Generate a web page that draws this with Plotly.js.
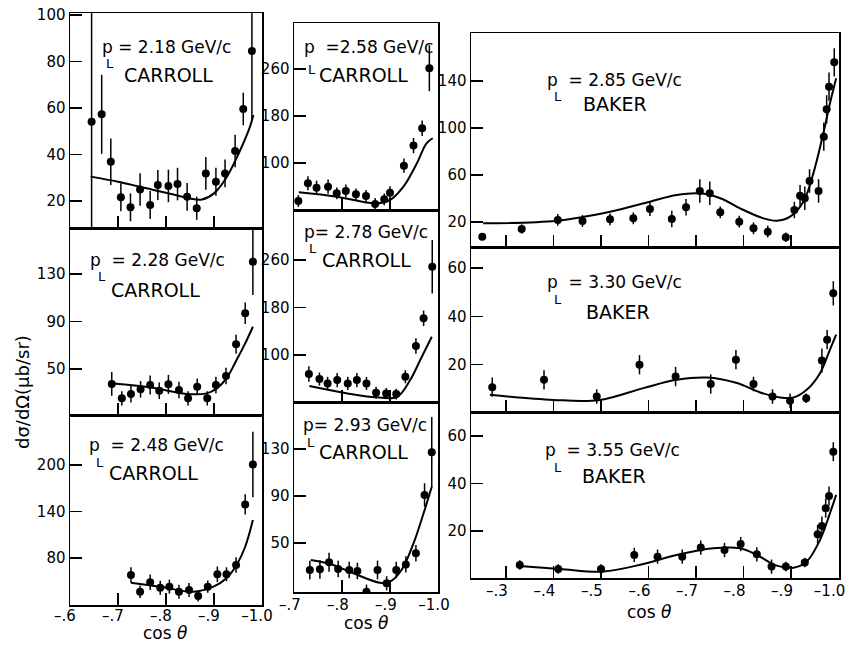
<!DOCTYPE html>
<html><head><meta charset="utf-8">
<script src="https://cdn.plot.ly/plotly-3.0.1.min.js"></script>
<style>html,body{margin:0;padding:0;background:#fff}#plot{width:845px;height:645px}</style>
</head><body><div id="plot"></div>
<script>
// ---- data (cos theta, dsigma/dOmega, error) ----
const labels = ['2.18','2.28','2.48','2.58','2.78','2.93','2.85','3.30','3.55'];
const sources = ['CARROLL','CARROLL','CARROLL','CARROLL','CARROLL','CARROLL','BAKER','BAKER','BAKER'];

const cos218 = [-0.645,-0.666,-0.685,-0.706,-0.726,-0.746,-0.767,-0.783,-0.805,-0.824,-0.844,-0.864,-0.883,-0.904,-0.923,-0.944,-0.961,-0.979];
const ds218  = [54.1,57.3,36.9,21.6,17.3,25.0,18.3,26.9,26.5,27.3,21.8,16.9,31.9,28.3,31.9,41.5,59.6,84.6];
const er218  = [60,17,10,6,6,7,6,6.5,7,7,6,5,7,6,6,7,7,30];
const fit218c = [-0.643,-0.70,-0.75,-0.80,-0.85,-0.875,-0.90,-0.925,-0.95,-0.975,-0.982];
const fit218v = [30.5,28.3,25.9,23.6,21.1,20.7,23.3,29.8,39.8,52,57];

const cos228 = [-0.687,-0.708,-0.727,-0.747,-0.767,-0.786,-0.805,-0.827,-0.846,-0.865,-0.886,-0.904,-0.925,-0.946,-0.965,-0.981];
const ds228  = [37.4,25.3,28.9,32.9,36.5,31.7,37.1,32.3,25.3,35.1,25.3,36.5,44.1,70.8,96.9,140.3];
const er228  = [10,6,7,7,8,7,8,7,6,7,6,7,7,8,9,28];
const fit228c = [-0.690,-0.767,-0.843,-0.885,-0.906,-0.926,-0.947,-0.965,-0.981];
const fit228v = [37.9,34.6,29,29.5,33.7,42.1,57.6,71.6,85.6];

const cos248 = [-0.727,-0.746,-0.767,-0.788,-0.807,-0.827,-0.848,-0.867,-0.887,-0.907,-0.926,-0.946,-0.965,-0.981];
const ds248  = [58.2,36.7,48.8,41.9,43.2,36.7,38.9,31.2,43.2,59.1,59.1,71.0,149,200.3];
const er248  = [10,8,10,9,9,9,9,7,8,10,9,10,13,42];
const fit248c = [-0.727,-0.788,-0.857,-0.899,-0.926,-0.947,-0.965,-0.981];
const fit248v = [48.3,43.1,36.7,43.2,53.9,71,94.5,128.8];

const cos258 = [-0.709,-0.729,-0.747,-0.771,-0.789,-0.808,-0.829,-0.850,-0.869,-0.888,-0.900,-0.929,-0.949,-0.967,-0.982];
const ds258  = [35.3,65.4,58,59.7,48.4,52.3,46.7,43.8,30.2,38.2,49.5,95.4,129.5,159,261.2];
const er258  = [10,12,12,12,10,11,10,10,10,10,11,12,13,13,39];
const fit258c = [-0.710,-0.789,-0.869,-0.900,-0.928,-0.956,-0.976,-0.989];
const fit258v = [50.1,42.7,31.4,37,59.7,99.4,133.5,142];

const cos278 = [-0.731,-0.753,-0.770,-0.790,-0.812,-0.831,-0.851,-0.871,-0.892,-0.913,-0.932,-0.954,-0.970,-0.988];
const ds278  = [68,59.6,52.3,57.9,52.3,57.9,52.3,36.6,35.5,34.3,63.5,115.2,161.8,248.7];
const er278  = [13,11,11,12,11,12,11,10,9,9,11,13,13,45];
const fit278c = [-0.732,-0.803,-0.872,-0.915,-0.942,-0.963,-0.987];
const fit278v = [47.8,36.6,28.8,29.8,57.9,91.6,130.8];

const cos293 = [-0.733,-0.754,-0.773,-0.792,-0.815,-0.832,-0.851,-0.874,-0.893,-0.913,-0.933,-0.954,-0.972,-0.987];
const ds293  = [27,27.6,33.6,27.9,27,26.2,8.6,27,15.7,27,31.8,41.2,90.9,127.2];
const er293  = [8,8,8,7,7,7,6,8,6,7,7,7,10,30];
const fit293c = [-0.735,-0.775,-0.824,-0.879,-0.900,-0.924,-0.949,-0.970,-0.987];
const fit293v = [35.5,32.1,24.2,16.2,17.1,27,49.7,75.3,97.9];

const cos285 = [-0.250,-0.333,-0.409,-0.461,-0.519,-0.568,-0.603,-0.649,-0.679,-0.708,-0.729,-0.751,-0.791,-0.821,-0.851,-0.889,-0.907,-0.919,-0.929,-0.939,-0.958,-0.969,-0.975,-0.980,-0.991];
const ds285  = [7.5,14,21.7,20.9,22.3,23.1,31.1,22.6,32.5,46.4,44.4,28.2,20.3,14.6,11.7,7,30.2,42.4,40.2,54.9,46.4,92.6,115.9,135.2,155.9];
const er285  = [3,4,5,5,5,5,6,7,7,10,10,5,5,5,5,4,7,9,10,10,10,12,12,12,12];
const fit285c = [-0.252,-0.407,-0.519,-0.603,-0.659,-0.708,-0.751,-0.800,-0.842,-0.870,-0.898,-0.926,-0.947,-0.968,-0.982,-0.995];
const fit285v = [18.9,21.1,28.8,37.3,43,44.4,40.2,30.2,23.1,21.1,24.5,37.3,61.4,95.5,121,142.3];

const cos330 = [-0.271,-0.380,-0.491,-0.581,-0.657,-0.731,-0.784,-0.821,-0.861,-0.898,-0.932,-0.965,-0.976,-0.989];
const ds330  = [10.7,13.75,6.8,20,15.1,12,22.1,12,6.8,5.1,6.1,21.7,30.4,49.6];
const er330  = [4,4,3,4,4,4,4,3,3,3,2,5,4,5];
const fit330c = [-0.266,-0.400,-0.498,-0.589,-0.659,-0.723,-0.786,-0.835,-0.877,-0.905,-0.933,-0.961,-0.982,-0.995];
const fit330v = [7.5,5.4,5.4,10.3,13.75,14.7,12.4,8.5,6.4,6.4,9.6,16.5,26.3,32.5];

const cos355 = [-0.329,-0.410,-0.500,-0.570,-0.619,-0.671,-0.710,-0.760,-0.794,-0.828,-0.859,-0.889,-0.929,-0.956,-0.965,-0.973,-0.980,-0.989];
const ds355  = [5.7,4,4,9.9,9.2,9.2,13,12,14.5,10.2,5,5,6.7,18.6,22.1,29.6,34.7,53.4];
const er355  = [2,2,2,3,3,3,3,3,3,3,3,2,2,4,4,4,4,4];
const fit355c = [-0.329,-0.414,-0.505,-0.589,-0.659,-0.736,-0.793,-0.828,-0.870,-0.905,-0.933,-0.961,-0.982,-0.995];
const fit355v = [5.3,4,2.9,6.1,9.9,12.7,12.7,9.9,5.4,4.5,7.1,16.2,27.5,35.2];

// tick labels
const yTicks = [[20,40,60,80,100],[50,90,130],[80,140,200],[100,180,260],[100,180,260],[50,90,130],[20,60,100,140],[20,40,60],[20,40,60]];
const xTickLeft = [-0.6,-0.7,-0.8,-0.9,-1.0];
const xTextLeft = ['–.6','–.7','–.8','–.9','–1.0'];
const xTickMid = [-0.7,-0.8,-0.9,-1.0];
const xTextMid = ['–.7','–.8','–.9','–1.0'];
const xTickRight = [-0.3,-0.4,-0.5,-0.6,-0.7,-0.8,-0.9,-1.0];
const xTextRight = ['–.3','–.4','–.5','–.6','–.7','–.8','–.9','–1.0'];

// ---- layout geometry (pixels in an 845x645 page) ----
const W = 845, H = 645;
const FONT = 'DejaVu Sans, sans-serif';
const cols = [[70,262],[294,438],[471,839]];
const xRanges = [[-0.6,-1.0],[-0.7,-1.0],[-0.2263,-1.001]];
const xShift = [5,4,9];          // axes run right-to-left, so positive = leftward
const labelRaise = [0.5,-1.5,-1.5];
const panels = [
  {col:0, top:13,  bot:228, yr:[8.4,100.9], c:cos218, v:ds218, e:er218, fc:fit218c, fv:fit218v, head:'p = ', px:100, py:47, lx:110, ly:63, sx:168, sy:75},
  {col:0, top:228, bot:415, yr:[11.3,168.7], c:cos228, v:ds228, e:er228, fc:fit228c, fv:fit228v, head:'p&nbsp; = ', px:88, py:260, lx:102, ly:276, sx:155, sy:290},
  {col:0, top:415, bot:605, yr:[19.6,264], c:cos248, v:ds248, e:er248, fc:fit248c, fv:fit248v, head:'p&nbsp; = ', px:87, py:445, lx:100, ly:462, sx:153, sy:473},
  {col:1, top:23,  bot:210, yr:[20,338], c:cos258, v:ds258, e:er258, fc:fit258c, fv:fit258v, head:'p&nbsp; =', px:302, py:47, lx:312, ly:70, sx:363, sy:75},
  {col:1, top:210, bot:402, yr:[21,344], c:cos278, v:ds278, e:er278, fc:fit278c, fv:fit278v, head:'p= ', px:302, py:232, lx:313, ly:248, sx:366, sy:260},
  {col:1, top:402, bot:592, yr:[8.3,170], c:cos293, v:ds293, e:er293, fc:fit293c, fv:fit293v, head:'p= ', px:301, py:425, lx:311, ly:442, sx:363, sy:452},
  {col:2, top:33,  bot:247, yr:[-1.3,180.9], c:cos285, v:ds285, e:er285, fc:fit285c, fv:fit285v, head:'p&nbsp; = ', px:545, py:80, lx:558, ly:97, sx:615, sy:104},
  {col:2, top:247, bot:412, yr:[0.4,68.8], c:cos330, v:ds330, e:er330, fc:fit330c, fv:fit330v, head:'p&nbsp; = ', px:545, py:282, lx:558, ly:299, sx:618, sy:312},
  {col:2, top:412, bot:578, yr:[0.2,70.1], c:cos355, v:ds355, e:er355, fc:fit355c, fv:fit355v, head:'p&nbsp; = ', px:543, py:450, lx:558, ly:467, sx:614, sy:476}
];
const bottomPanels = {2:[xTickLeft,xTextLeft], 5:[xTickMid,xTextMid], 8:[xTickRight,xTextRight]};
const colTicks = [xTickLeft, xTickMid, xTickRight];

const traces = [];
const layout = {
  width: W, height: H, margin:{l:0,r:0,t:0,b:0},
  paper_bgcolor:'#fff', plot_bgcolor:'rgba(0,0,0,0)', showlegend:false,
  font:{family:FONT, color:'#000'}, annotations:[]
};
const txt = (x, y, text, size, anchor, extra) => Object.assign({xref:'paper', yref:'paper', x:x/W, y:1-y/H,
  xanchor:anchor, yanchor:'middle', showarrow:false, text:text, font:{family:FONT, size:size, color:'#000'}}, extra || {});
const tickFont = {family:FONT, size:15, color:'#000'};

panels.forEach((p, i) => {
  const n = i === 0 ? '' : String(i+1);
  const xa = 'x'+n, ya = 'y'+n;
  const common = {showline:true, mirror:true, linecolor:'#000', linewidth:1.5,
    ticks:'inside', ticklen:12, tickwidth:1.5, tickcolor:'#000',
    showgrid:false, zeroline:false, tickfont:tickFont, fixedrange:true};
  layout['xaxis'+n] = Object.assign({}, common, {
    domain:[cols[p.col][0]/W, cols[p.col][1]/W], range:xRanges[p.col], anchor:ya,
    tickmode:'array', tickvals: colTicks[p.col], showticklabels:false
  });
  layout['yaxis'+n] = Object.assign({}, common, {
    domain:[1-p.bot/H, 1-p.top/H], range:p.yr, anchor:xa,
    tickmode:'array', tickvals:yTicks[i], ticktext:yTicks[i].map(String)
  });
  const bt = bottomPanels[i];
  if (bt) {
    // label-only axis laid over the bottom panel's x axis, placed to sit the labels tight under the frame
    const ln = String(20 + p.col);
    layout['xaxis'+ln] = {overlaying:xa, anchor:'free', position:1-(p.bot-labelRaise[p.col])/H,
      domain:[cols[p.col][0]/W, cols[p.col][1]/W], range:xRanges[p.col],
      showline:false, ticks:'', showgrid:false, zeroline:false, fixedrange:true,
      tickmode:'array', tickvals:bt[0], ticktext:bt[1], tickfont:tickFont,
      ticklabeloverflow:'allow', ticklabelshift:xShift[p.col]};
    traces.push({x:[], y:[], xaxis:'x'+ln, yaxis:ya, type:'scatter', mode:'markers', hoverinfo:'skip'});
  }
  traces.push({x:p.fc, y:p.fv, xaxis:xa, yaxis:ya, type:'scatter', mode:'lines',
    line:{color:'#000', width:2, shape:'spline', smoothing:1}, hoverinfo:'skip'});
  traces.push({x:p.c, y:p.v, xaxis:xa, yaxis:ya, type:'scatter', mode:'markers',
    marker:{color:'#000', size:8},
    error_y:{type:'data', array:p.e, visible:true, color:'#000', thickness:1.5, width:0}});
  layout.annotations.push(txt(p.px, p.py, p.head + labels[i] + ' GeV/c', 17, 'left'));
  layout.annotations.push(txt(p.lx, p.ly, 'L', 13, 'center'));
  layout.annotations.push(txt(p.sx, p.sy, sources[i], 19, 'center'));
});

// axis labels
[[165,633],[366,623],[649,612]].forEach(([x,y]) => {
  layout.annotations.push(txt(x, y, 'cos <i>θ</i>', 17, 'center'));
});
layout.annotations.push(txt(22, 392, 'dσ/dΩ(μb/sr)', 18, 'center', {textangle:-90}));

Plotly.newPlot('plot', traces, layout, {staticPlot:true, displayModeBar:false});
</script></body></html>
